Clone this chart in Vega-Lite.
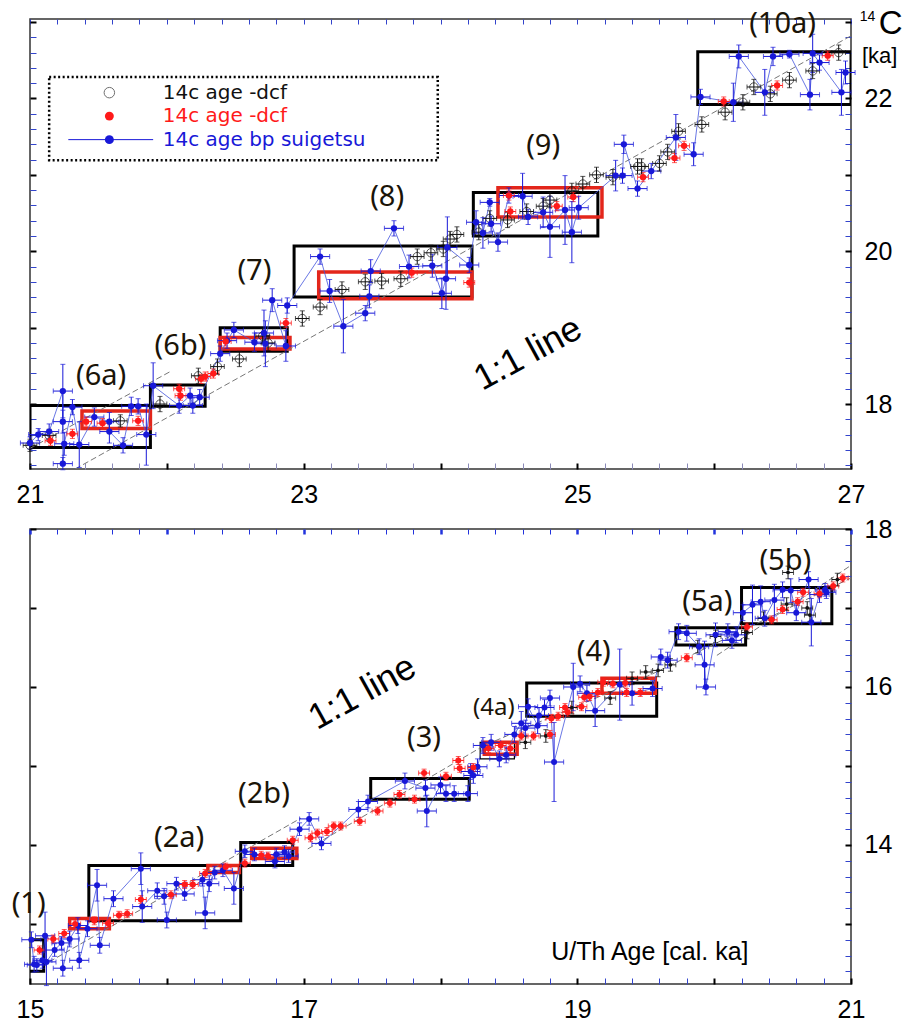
{
"$schema": "https://vega.github.io/schema/vega-lite/v6.json",
"padding": {"left": 10, "top": 7, "right": 0, "bottom": 0},
"spacing": 8,
"background": "white",
"config": {"view": {"stroke": "#333333", "strokeWidth": 1.5}, "axis": {"labelFont": "Liberation Sans", "labelFontSize": 25, "labelColor": "#000000", "grid": false, "domain": false}},
"datasets": {
"pts": [
{"p":"t","s":"blu","x":21.00,"y":17.49,"xe":0.07,"ye":0.08},{"p":"t","s":"blu","x":21.06,"y":17.60,"xe":0.07,"ye":0.08},{"p":"t","s":"blu","x":21.14,"y":17.64,"xe":0.07,"ye":0.1},{"p":"t","s":"blu","x":21.24,"y":18.17,"xe":0.07,"ye":0.35},{"p":"t","s":"blu","x":21.24,"y":17.77,"xe":0.07,"ye":0.15},{"p":"t","s":"blu","x":21.25,"y":17.48,"xe":0.07,"ye":0.15},{"p":"t","s":"blu","x":21.24,"y":17.22,"xe":0.07,"ye":0.08},{"p":"t","s":"blu","x":21.31,"y":17.96,"xe":0.07,"ye":0.1},{"p":"t","s":"blu","x":21.36,"y":17.47,"xe":0.07,"ye":0.3},{"p":"t","s":"blu","x":21.47,"y":17.83,"xe":0.07,"ye":0.12},{"p":"t","s":"blu","x":21.58,"y":17.77,"xe":0.07,"ye":0.12},{"p":"t","s":"blu","x":21.58,"y":17.64,"xe":0.07,"ye":0.15},{"p":"t","s":"blu","x":21.68,"y":17.46,"xe":0.07,"ye":0.1},{"p":"t","s":"blu","x":21.74,"y":17.97,"xe":0.07,"ye":0.12},{"p":"t","s":"blu","x":21.79,"y":17.97,"xe":0.07,"ye":0.1},{"p":"t","s":"blu","x":21.85,"y":17.60,"xe":0.07,"ye":0.4},{"p":"t","s":"blu","x":21.90,"y":18.24,"xe":0.07,"ye":0.3},{"p":"t","s":"blu","x":22.09,"y":17.98,"xe":0.07,"ye":0.1},{"p":"t","s":"blu","x":22.17,"y":18.11,"xe":0.07,"ye":0.1},{"p":"t","s":"blu","x":22.19,"y":17.98,"xe":0.07,"ye":0.1},{"p":"t","s":"blu","x":22.24,"y":18.09,"xe":0.07,"ye":0.1},{"p":"t","s":"blu","x":22.39,"y":18.66,"xe":0.07,"ye":0.1},{"p":"t","s":"blu","x":22.44,"y":18.83,"xe":0.07,"ye":0.1},{"p":"t","s":"blu","x":22.49,"y":18.97,"xe":0.07,"ye":0.1},{"p":"t","s":"blu","x":22.64,"y":18.81,"xe":0.07,"ye":0.12},{"p":"t","s":"blu","x":22.71,"y":18.93,"xe":0.07,"ye":0.3},{"p":"t","s":"blu","x":22.72,"y":18.79,"xe":0.07,"ye":0.3},{"p":"t","s":"blu","x":22.77,"y":19.36,"xe":0.07,"ye":0.15},{"p":"t","s":"blu","x":22.87,"y":18.76,"xe":0.07,"ye":0.2},{"p":"t","s":"blu","x":22.88,"y":19.29,"xe":0.07,"ye":0.1},{"p":"t","s":"blu","x":23.12,"y":19.93,"xe":0.07,"ye":0.1},{"p":"t","s":"blu","x":23.19,"y":19.48,"xe":0.07,"ye":0.15},{"p":"t","s":"blu","x":23.29,"y":19.02,"xe":0.07,"ye":0.35},{"p":"t","s":"blu","x":23.45,"y":19.19,"xe":0.07,"ye":0.1},{"p":"t","s":"blu","x":23.48,"y":19.41,"xe":0.07,"ye":0.15},{"p":"t","s":"blu","x":23.49,"y":19.74,"xe":0.07,"ye":0.15},{"p":"t","s":"blu","x":23.66,"y":20.30,"xe":0.07,"ye":0.1},{"p":"t","s":"blu","x":23.77,"y":19.80,"xe":0.07,"ye":0.15},{"p":"t","s":"blu","x":23.94,"y":19.81,"xe":0.07,"ye":0.15},{"p":"t","s":"blu","x":24.01,"y":19.45,"xe":0.07,"ye":0.2},{"p":"t","s":"blu","x":24.04,"y":19.64,"xe":0.07,"ye":0.4},{"p":"t","s":"blu","x":24.05,"y":20.05,"xe":0.07,"ye":0.4},{"p":"t","s":"blu","x":24.21,"y":19.82,"xe":0.07,"ye":0.1},{"p":"t","s":"blu","x":24.26,"y":20.38,"xe":0.07,"ye":0.15},{"p":"t","s":"blu","x":24.31,"y":20.24,"xe":0.07,"ye":0.2},{"p":"t","s":"blu","x":24.36,"y":20.64,"xe":0.07,"ye":0.05},{"p":"t","s":"blu","x":24.37,"y":20.36,"xe":0.07,"ye":0.1},{"p":"t","s":"blu","x":24.42,"y":20.12,"xe":0.07,"ye":0.12},{"p":"t","s":"blu","x":24.50,"y":20.73,"xe":0.07,"ye":0.1},{"p":"t","s":"blu","x":24.60,"y":20.72,"xe":0.07,"ye":0.3},{"p":"t","s":"blu","x":24.64,"y":20.45,"xe":0.07,"ye":0.1},{"p":"t","s":"blu","x":24.75,"y":20.51,"xe":0.07,"ye":0.2},{"p":"t","s":"blu","x":24.80,"y":20.32,"xe":0.07,"ye":0.4},{"p":"t","s":"blu","x":24.91,"y":20.54,"xe":0.07,"ye":0.45},{"p":"t","s":"blu","x":24.96,"y":20.25,"xe":0.07,"ye":0.4},{"p":"t","s":"blu","x":25.01,"y":20.57,"xe":0.07,"ye":0.15},{"p":"t","s":"blu","x":25.28,"y":20.99,"xe":0.07,"ye":0.2},{"p":"t","s":"blu","x":25.33,"y":20.99,"xe":0.07,"ye":0.1},{"p":"t","s":"blu","x":25.34,"y":21.40,"xe":0.07,"ye":0.12},{"p":"t","s":"blu","x":25.44,"y":20.82,"xe":0.07,"ye":0.1},{"p":"t","s":"blu","x":25.54,"y":21.05,"xe":0.07,"ye":0.1},{"p":"t","s":"blu","x":25.72,"y":21.49,"xe":0.07,"ye":0.3},{"p":"t","s":"blu","x":25.85,"y":21.27,"xe":0.07,"ye":0.15},{"p":"t","s":"blu","x":25.90,"y":22.02,"xe":0.07,"ye":0.1},{"p":"t","s":"blu","x":26.14,"y":21.95,"xe":0.07,"ye":0.25},{"p":"t","s":"blu","x":26.18,"y":22.55,"xe":0.07,"ye":0.15},{"p":"t","s":"blu","x":26.37,"y":22.08,"xe":0.07,"ye":0.3},{"p":"t","s":"blu","x":26.43,"y":22.55,"xe":0.07,"ye":0.12},{"p":"t","s":"blu","x":26.55,"y":22.58,"xe":0.07,"ye":0.05},{"p":"t","s":"blu","x":26.70,"y":22.05,"xe":0.07,"ye":0.2},{"p":"t","s":"blu","x":26.72,"y":22.59,"xe":0.07,"ye":0.25},{"p":"t","s":"blu","x":26.77,"y":22.47,"xe":0.07,"ye":0.1},{"p":"t","s":"blu","x":26.93,"y":22.08,"xe":0.07,"ye":0.3},{"p":"t","s":"blu","x":26.96,"y":22.34,"xe":0.07,"ye":0.15},
{"p":"t","s":"blk","x":21.00,"y":17.46,"xe":0.05,"ye":0.08},{"p":"t","s":"blk","x":21.14,"y":17.59,"xe":0.05,"ye":0.08},{"p":"t","s":"blk","x":21.66,"y":17.78,"xe":0.05,"ye":0.08},{"p":"t","s":"blk","x":21.95,"y":18.00,"xe":0.05,"ye":0.1},{"p":"t","s":"blk","x":22.23,"y":18.37,"xe":0.05,"ye":0.1},{"p":"t","s":"blk","x":22.37,"y":18.49,"xe":0.05,"ye":0.1},{"p":"t","s":"blk","x":22.53,"y":18.59,"xe":0.05,"ye":0.1},{"p":"t","s":"blk","x":22.70,"y":18.89,"xe":0.05,"ye":0.1},{"p":"t","s":"blk","x":22.74,"y":18.80,"xe":0.05,"ye":0.1},{"p":"t","s":"blk","x":22.99,"y":19.12,"xe":0.05,"ye":0.1},{"p":"t","s":"blk","x":23.12,"y":19.27,"xe":0.05,"ye":0.1},{"p":"t","s":"blk","x":23.28,"y":19.50,"xe":0.05,"ye":0.1},{"p":"t","s":"blk","x":23.45,"y":19.60,"xe":0.05,"ye":0.1},{"p":"t","s":"blk","x":23.57,"y":19.61,"xe":0.05,"ye":0.1},{"p":"t","s":"blk","x":23.71,"y":19.64,"xe":0.05,"ye":0.1},{"p":"t","s":"blk","x":23.83,"y":19.93,"xe":0.05,"ye":0.1},{"p":"t","s":"blk","x":23.93,"y":19.98,"xe":0.05,"ye":0.1},{"p":"t","s":"blk","x":24.02,"y":20.03,"xe":0.05,"ye":0.1},{"p":"t","s":"blk","x":24.07,"y":20.16,"xe":0.05,"ye":0.1},{"p":"t","s":"blk","x":24.12,"y":20.22,"xe":0.05,"ye":0.1},{"p":"t","s":"blk","x":24.28,"y":20.25,"xe":0.05,"ye":0.1},{"p":"t","s":"blk","x":24.36,"y":20.43,"xe":0.05,"ye":0.1},{"p":"t","s":"blk","x":24.49,"y":20.41,"xe":0.05,"ye":0.1},{"p":"t","s":"blk","x":24.63,"y":20.52,"xe":0.05,"ye":0.1},{"p":"t","s":"blk","x":24.75,"y":20.59,"xe":0.05,"ye":0.1},{"p":"t","s":"blk","x":24.80,"y":20.67,"xe":0.05,"ye":0.1},{"p":"t","s":"blk","x":24.96,"y":20.79,"xe":0.05,"ye":0.1},{"p":"t","s":"blk","x":25.04,"y":20.88,"xe":0.05,"ye":0.1},{"p":"t","s":"blk","x":25.14,"y":21.00,"xe":0.05,"ye":0.1},{"p":"t","s":"blk","x":25.26,"y":20.97,"xe":0.05,"ye":0.1},{"p":"t","s":"blk","x":25.44,"y":21.11,"xe":0.05,"ye":0.1},{"p":"t","s":"blk","x":25.47,"y":21.11,"xe":0.05,"ye":0.1},{"p":"t","s":"blk","x":25.60,"y":21.15,"xe":0.05,"ye":0.1},{"p":"t","s":"blk","x":25.66,"y":21.30,"xe":0.05,"ye":0.1},{"p":"t","s":"blk","x":25.74,"y":21.57,"xe":0.05,"ye":0.1},{"p":"t","s":"blk","x":25.91,"y":21.66,"xe":0.05,"ye":0.1},{"p":"t","s":"blk","x":26.08,"y":21.82,"xe":0.05,"ye":0.1},{"p":"t","s":"blk","x":26.21,"y":21.95,"xe":0.05,"ye":0.1},{"p":"t","s":"blk","x":26.29,"y":22.15,"xe":0.05,"ye":0.1},{"p":"t","s":"blk","x":26.41,"y":22.06,"xe":0.05,"ye":0.1},{"p":"t","s":"blk","x":26.55,"y":22.24,"xe":0.05,"ye":0.1},{"p":"t","s":"blk","x":26.72,"y":22.36,"xe":0.05,"ye":0.1},{"p":"t","s":"blk","x":26.91,"y":22.60,"xe":0.05,"ye":0.1},
{"p":"t","s":"red","x":21.15,"y":17.52,"xe":0.04,"ye":0.06},{"p":"t","s":"red","x":21.31,"y":17.61,"xe":0.04,"ye":0.06},{"p":"t","s":"red","x":21.41,"y":17.77,"xe":0.04,"ye":0.06},{"p":"t","s":"red","x":21.53,"y":17.75,"xe":0.04,"ye":0.06},{"p":"t","s":"red","x":21.79,"y":17.78,"xe":0.04,"ye":0.06},{"p":"t","s":"red","x":22.09,"y":18.20,"xe":0.04,"ye":0.06},{"p":"t","s":"red","x":22.10,"y":18.11,"xe":0.04,"ye":0.06},{"p":"t","s":"red","x":22.25,"y":18.33,"xe":0.04,"ye":0.06},{"p":"t","s":"red","x":22.28,"y":18.36,"xe":0.04,"ye":0.06},{"p":"t","s":"red","x":22.34,"y":18.40,"xe":0.04,"ye":0.06},{"p":"t","s":"red","x":22.43,"y":18.82,"xe":0.04,"ye":0.06},{"p":"t","s":"red","x":22.87,"y":19.06,"xe":0.04,"ye":0.06},{"p":"t","s":"red","x":23.79,"y":19.72,"xe":0.04,"ye":0.06},{"p":"t","s":"red","x":24.21,"y":19.59,"xe":0.04,"ye":0.06},{"p":"t","s":"red","x":24.50,"y":20.73,"xe":0.04,"ye":0.06},{"p":"t","s":"red","x":24.51,"y":20.52,"xe":0.04,"ye":0.06},{"p":"t","s":"red","x":24.85,"y":20.59,"xe":0.04,"ye":0.06},{"p":"t","s":"red","x":24.97,"y":20.71,"xe":0.04,"ye":0.06},{"p":"t","s":"red","x":25.48,"y":20.97,"xe":0.04,"ye":0.06},{"p":"t","s":"red","x":25.71,"y":21.22,"xe":0.04,"ye":0.06},{"p":"t","s":"red","x":25.78,"y":21.38,"xe":0.04,"ye":0.06},{"p":"t","s":"red","x":26.07,"y":21.96,"xe":0.04,"ye":0.06},{"p":"t","s":"red","x":26.46,"y":22.17,"xe":0.04,"ye":0.06},{"p":"t","s":"red","x":26.83,"y":22.56,"xe":0.04,"ye":0.06},
{"p":"b","s":"blu","x":15.01,"y":12.80,"xe":0.07,"ye":0.1},{"p":"b","s":"blu","x":15.03,"y":12.49,"xe":0.07,"ye":0.1},{"p":"b","s":"blu","x":15.05,"y":12.48,"xe":0.07,"ye":0.08},{"p":"b","s":"blu","x":15.09,"y":12.54,"xe":0.07,"ye":0.1},{"p":"b","s":"blu","x":15.11,"y":12.85,"xe":0.07,"ye":0.3},{"p":"b","s":"blu","x":15.12,"y":12.52,"xe":0.07,"ye":0.3},{"p":"b","s":"blu","x":15.18,"y":12.67,"xe":0.07,"ye":0.08},{"p":"b","s":"blu","x":15.23,"y":12.76,"xe":0.07,"ye":0.08},{"p":"b","s":"blu","x":15.24,"y":12.44,"xe":0.07,"ye":0.1},{"p":"b","s":"blu","x":15.29,"y":12.81,"xe":0.07,"ye":0.1},{"p":"b","s":"blu","x":15.35,"y":12.98,"xe":0.07,"ye":0.1},{"p":"b","s":"blu","x":15.36,"y":12.54,"xe":0.07,"ye":0.1},{"p":"b","s":"blu","x":15.42,"y":12.94,"xe":0.07,"ye":0.1},{"p":"b","s":"blu","x":15.49,"y":13.49,"xe":0.07,"ye":0.2},{"p":"b","s":"blu","x":15.51,"y":12.73,"xe":0.07,"ye":0.1},{"p":"b","s":"blu","x":15.61,"y":13.32,"xe":0.07,"ye":0.1},{"p":"b","s":"blu","x":15.81,"y":13.70,"xe":0.07,"ye":0.2},{"p":"b","s":"blu","x":15.82,"y":13.22,"xe":0.07,"ye":0.2},{"p":"b","s":"blu","x":15.93,"y":13.42,"xe":0.07,"ye":0.1},{"p":"b","s":"blu","x":15.98,"y":13.35,"xe":0.07,"ye":0.1},{"p":"b","s":"blu","x":16.00,"y":13.05,"xe":0.07,"ye":0.1},{"p":"b","s":"blu","x":16.07,"y":13.51,"xe":0.07,"ye":0.08},{"p":"b","s":"blu","x":16.13,"y":13.38,"xe":0.07,"ye":0.08},{"p":"b","s":"blu","x":16.26,"y":13.56,"xe":0.07,"ye":0.08},{"p":"b","s":"blu","x":16.28,"y":13.14,"xe":0.07,"ye":0.2},{"p":"b","s":"blu","x":16.31,"y":13.51,"xe":0.07,"ye":0.1},{"p":"b","s":"blu","x":16.35,"y":13.65,"xe":0.07,"ye":0.08},{"p":"b","s":"blu","x":16.41,"y":13.68,"xe":0.07,"ye":0.08},{"p":"b","s":"blu","x":16.49,"y":13.45,"xe":0.07,"ye":0.2},{"p":"b","s":"blu","x":16.57,"y":13.92,"xe":0.07,"ye":0.08},{"p":"b","s":"blu","x":16.64,"y":13.88,"xe":0.07,"ye":0.08},{"p":"b","s":"blu","x":16.79,"y":13.79,"xe":0.07,"ye":0.08},{"p":"b","s":"blu","x":16.80,"y":13.88,"xe":0.07,"ye":0.08},{"p":"b","s":"blu","x":16.86,"y":13.91,"xe":0.07,"ye":0.08},{"p":"b","s":"blu","x":16.89,"y":13.86,"xe":0.07,"ye":0.08},{"p":"b","s":"blu","x":16.97,"y":14.20,"xe":0.07,"ye":0.08},{"p":"b","s":"blu","x":17.04,"y":14.33,"xe":0.07,"ye":0.08},{"p":"b","s":"blu","x":17.13,"y":14.02,"xe":0.07,"ye":0.08},{"p":"b","s":"blu","x":17.40,"y":14.45,"xe":0.07,"ye":0.1},{"p":"b","s":"blu","x":17.47,"y":14.55,"xe":0.07,"ye":0.08},{"p":"b","s":"blu","x":17.74,"y":14.81,"xe":0.07,"ye":0.1},{"p":"b","s":"blu","x":17.89,"y":14.72,"xe":0.07,"ye":0.1},{"p":"b","s":"blu","x":17.90,"y":14.43,"xe":0.07,"ye":0.2},{"p":"b","s":"blu","x":18.00,"y":14.76,"xe":0.07,"ye":0.1},{"p":"b","s":"blu","x":18.04,"y":14.65,"xe":0.07,"ye":0.1},{"p":"b","s":"blu","x":18.10,"y":14.65,"xe":0.07,"ye":0.1},{"p":"b","s":"blu","x":18.20,"y":14.65,"xe":0.07,"ye":0.1},{"p":"b","s":"blu","x":18.22,"y":14.93,"xe":0.07,"ye":0.1},{"p":"b","s":"blu","x":18.24,"y":14.88,"xe":0.07,"ye":0.1},{"p":"b","s":"blu","x":18.27,"y":14.99,"xe":0.07,"ye":0.1},{"p":"b","s":"blu","x":18.31,"y":15.26,"xe":0.07,"ye":0.1},{"p":"b","s":"blu","x":18.37,"y":15.30,"xe":0.07,"ye":0.1},{"p":"b","s":"blu","x":18.43,"y":15.09,"xe":0.07,"ye":0.1},{"p":"b","s":"blu","x":18.48,"y":15.14,"xe":0.07,"ye":0.1},{"p":"b","s":"blu","x":18.54,"y":15.40,"xe":0.07,"ye":0.1},{"p":"b","s":"blu","x":18.59,"y":15.54,"xe":0.07,"ye":0.15},{"p":"b","s":"blu","x":18.62,"y":15.48,"xe":0.07,"ye":0.1},{"p":"b","s":"blu","x":18.64,"y":15.75,"xe":0.07,"ye":0.1},{"p":"b","s":"blu","x":18.71,"y":15.51,"xe":0.07,"ye":0.1},{"p":"b","s":"blu","x":18.72,"y":15.64,"xe":0.07,"ye":0.1},{"p":"b","s":"blu","x":18.76,"y":15.74,"xe":0.07,"ye":0.1},{"p":"b","s":"blu","x":18.80,"y":15.86,"xe":0.07,"ye":0.1},{"p":"b","s":"blu","x":18.83,"y":15.05,"xe":0.07,"ye":0.5},{"p":"b","s":"blu","x":18.97,"y":16.00,"xe":0.07,"ye":0.3},{"p":"b","s":"blu","x":19.02,"y":16.04,"xe":0.07,"ye":0.1},{"p":"b","s":"blu","x":19.07,"y":15.92,"xe":0.07,"ye":0.1},{"p":"b","s":"blu","x":19.13,"y":15.70,"xe":0.07,"ye":0.2},{"p":"b","s":"blu","x":19.31,"y":16.03,"xe":0.07,"ye":0.45},{"p":"b","s":"blu","x":19.40,"y":15.92,"xe":0.07,"ye":0.15},{"p":"b","s":"blu","x":19.55,"y":15.98,"xe":0.07,"ye":0.1},{"p":"b","s":"blu","x":19.61,"y":16.38,"xe":0.07,"ye":0.1},{"p":"b","s":"blu","x":19.66,"y":16.34,"xe":0.07,"ye":0.1},{"p":"b","s":"blu","x":19.74,"y":16.70,"xe":0.07,"ye":0.1},{"p":"b","s":"blu","x":19.80,"y":16.68,"xe":0.07,"ye":0.1},{"p":"b","s":"blu","x":19.89,"y":16.51,"xe":0.07,"ye":0.1},{"p":"b","s":"blu","x":19.93,"y":16.28,"xe":0.07,"ye":0.3},{"p":"b","s":"blu","x":19.94,"y":16.00,"xe":0.07,"ye":0.1},{"p":"b","s":"blu","x":20.01,"y":16.66,"xe":0.07,"ye":0.15},{"p":"b","s":"blu","x":20.10,"y":16.70,"xe":0.07,"ye":0.1},{"p":"b","s":"blu","x":20.13,"y":16.59,"xe":0.07,"ye":0.1},{"p":"b","s":"blu","x":20.16,"y":16.66,"xe":0.07,"ye":0.1},{"p":"b","s":"blu","x":20.21,"y":16.94,"xe":0.07,"ye":0.1},{"p":"b","s":"blu","x":20.28,"y":17.04,"xe":0.07,"ye":0.25},{"p":"b","s":"blu","x":20.34,"y":17.08,"xe":0.07,"ye":0.2},{"p":"b","s":"blu","x":20.37,"y":16.87,"xe":0.07,"ye":0.1},{"p":"b","s":"blu","x":20.44,"y":17.10,"xe":0.07,"ye":0.2},{"p":"b","s":"blu","x":20.50,"y":17.23,"xe":0.07,"ye":0.1},{"p":"b","s":"blu","x":20.56,"y":17.22,"xe":0.07,"ye":0.15},{"p":"b","s":"blu","x":20.60,"y":16.94,"xe":0.07,"ye":0.1},{"p":"b","s":"blu","x":20.69,"y":17.36,"xe":0.07,"ye":0.1},{"p":"b","s":"blu","x":20.71,"y":16.82,"xe":0.07,"ye":0.3},{"p":"b","s":"blu","x":20.77,"y":17.17,"xe":0.07,"ye":0.1},{"p":"b","s":"blu","x":20.81,"y":17.23,"xe":0.07,"ye":0.08},{"p":"b","s":"blu","x":20.82,"y":17.20,"xe":0.07,"ye":0.08},
{"p":"b","s":"red","x":15.07,"y":12.67,"xe":0.04,"ye":0.05},{"p":"b","s":"red","x":15.17,"y":12.81,"xe":0.04,"ye":0.05},{"p":"b","s":"red","x":15.25,"y":12.88,"xe":0.04,"ye":0.05},{"p":"b","s":"red","x":15.33,"y":13.00,"xe":0.04,"ye":0.05},{"p":"b","s":"red","x":15.47,"y":13.04,"xe":0.04,"ye":0.05},{"p":"b","s":"red","x":15.57,"y":13.01,"xe":0.04,"ye":0.05},{"p":"b","s":"red","x":15.65,"y":13.11,"xe":0.04,"ye":0.05},{"p":"b","s":"red","x":15.71,"y":13.13,"xe":0.04,"ye":0.05},{"p":"b","s":"red","x":15.81,"y":13.31,"xe":0.04,"ye":0.05},{"p":"b","s":"red","x":16.03,"y":13.37,"xe":0.04,"ye":0.05},{"p":"b","s":"red","x":16.13,"y":13.50,"xe":0.04,"ye":0.05},{"p":"b","s":"red","x":16.19,"y":13.50,"xe":0.04,"ye":0.05},{"p":"b","s":"red","x":16.28,"y":13.64,"xe":0.04,"ye":0.05},{"p":"b","s":"red","x":16.43,"y":13.72,"xe":0.04,"ye":0.05},{"p":"b","s":"red","x":16.57,"y":13.77,"xe":0.04,"ye":0.05},{"p":"b","s":"red","x":16.69,"y":13.87,"xe":0.04,"ye":0.05},{"p":"b","s":"red","x":16.74,"y":13.86,"xe":0.04,"ye":0.05},{"p":"b","s":"red","x":16.92,"y":14.06,"xe":0.04,"ye":0.05},{"p":"b","s":"red","x":17.05,"y":14.09,"xe":0.04,"ye":0.05},{"p":"b","s":"red","x":17.10,"y":14.15,"xe":0.04,"ye":0.05},{"p":"b","s":"red","x":17.17,"y":14.17,"xe":0.04,"ye":0.05},{"p":"b","s":"red","x":17.22,"y":14.24,"xe":0.04,"ye":0.05},{"p":"b","s":"red","x":17.27,"y":14.24,"xe":0.04,"ye":0.05},{"p":"b","s":"red","x":17.41,"y":14.30,"xe":0.04,"ye":0.05},{"p":"b","s":"red","x":17.54,"y":14.43,"xe":0.04,"ye":0.05},{"p":"b","s":"red","x":17.63,"y":14.53,"xe":0.04,"ye":0.05},{"p":"b","s":"red","x":17.70,"y":14.64,"xe":0.04,"ye":0.05},{"p":"b","s":"red","x":17.81,"y":14.58,"xe":0.04,"ye":0.05},{"p":"b","s":"red","x":17.88,"y":14.91,"xe":0.04,"ye":0.05},{"p":"b","s":"red","x":18.04,"y":14.87,"xe":0.04,"ye":0.05},{"p":"b","s":"red","x":18.13,"y":15.07,"xe":0.04,"ye":0.05},{"p":"b","s":"red","x":18.14,"y":14.97,"xe":0.04,"ye":0.05},{"p":"b","s":"red","x":18.24,"y":14.98,"xe":0.04,"ye":0.05},{"p":"b","s":"red","x":18.35,"y":15.22,"xe":0.04,"ye":0.05},{"p":"b","s":"red","x":18.44,"y":15.26,"xe":0.04,"ye":0.05},{"p":"b","s":"red","x":18.51,"y":15.22,"xe":0.04,"ye":0.05},{"p":"b","s":"red","x":18.59,"y":15.38,"xe":0.04,"ye":0.05},{"p":"b","s":"red","x":18.68,"y":15.38,"xe":0.04,"ye":0.05},{"p":"b","s":"red","x":18.80,"y":15.40,"xe":0.04,"ye":0.05},{"p":"b","s":"red","x":18.81,"y":15.60,"xe":0.04,"ye":0.05},{"p":"b","s":"red","x":18.86,"y":15.63,"xe":0.04,"ye":0.05},{"p":"b","s":"red","x":18.91,"y":15.74,"xe":0.04,"ye":0.05},{"p":"b","s":"red","x":18.93,"y":15.68,"xe":0.04,"ye":0.05},{"p":"b","s":"red","x":19.03,"y":15.75,"xe":0.04,"ye":0.05},{"p":"b","s":"red","x":19.05,"y":15.87,"xe":0.04,"ye":0.05},{"p":"b","s":"red","x":19.09,"y":15.88,"xe":0.04,"ye":0.05},{"p":"b","s":"red","x":19.15,"y":15.93,"xe":0.04,"ye":0.05},{"p":"b","s":"red","x":19.19,"y":16.06,"xe":0.04,"ye":0.05},{"p":"b","s":"red","x":19.26,"y":16.04,"xe":0.04,"ye":0.05},{"p":"b","s":"red","x":19.35,"y":16.05,"xe":0.04,"ye":0.05},{"p":"b","s":"red","x":19.36,"y":15.93,"xe":0.04,"ye":0.05},{"p":"b","s":"red","x":19.46,"y":15.93,"xe":0.04,"ye":0.05},{"p":"b","s":"red","x":19.80,"y":16.37,"xe":0.04,"ye":0.05},{"p":"b","s":"red","x":20.24,"y":16.76,"xe":0.04,"ye":0.05},{"p":"b","s":"red","x":20.42,"y":16.85,"xe":0.04,"ye":0.05},{"p":"b","s":"red","x":20.50,"y":16.98,"xe":0.04,"ye":0.05},{"p":"b","s":"red","x":20.61,"y":17.08,"xe":0.04,"ye":0.05},{"p":"b","s":"red","x":20.65,"y":17.20,"xe":0.04,"ye":0.05},{"p":"b","s":"red","x":20.77,"y":17.18,"xe":0.04,"ye":0.05},{"p":"b","s":"red","x":20.87,"y":17.28,"xe":0.04,"ye":0.05},{"p":"b","s":"red","x":20.94,"y":17.38,"xe":0.04,"ye":0.05},
{"p":"b","s":"blk","x":18.62,"y":15.30,"xe":0.04,"ye":0.08},{"p":"b","s":"blk","x":18.77,"y":15.38,"xe":0.04,"ye":0.08},{"p":"b","s":"blk","x":18.96,"y":15.74,"xe":0.04,"ye":0.08},{"p":"b","s":"blk","x":19.24,"y":15.86,"xe":0.04,"ye":0.08},{"p":"b","s":"blk","x":19.40,"y":16.11,"xe":0.04,"ye":0.08},{"p":"b","s":"blk","x":19.50,"y":16.19,"xe":0.04,"ye":0.08},{"p":"b","s":"blk","x":19.59,"y":16.21,"xe":0.04,"ye":0.08},{"p":"b","s":"blk","x":19.68,"y":16.28,"xe":0.04,"ye":0.08},{"p":"b","s":"blk","x":19.88,"y":16.51,"xe":0.04,"ye":0.08},{"p":"b","s":"blk","x":20.01,"y":16.64,"xe":0.04,"ye":0.08},{"p":"b","s":"blk","x":20.24,"y":16.69,"xe":0.04,"ye":0.08},{"p":"b","s":"blk","x":20.36,"y":16.87,"xe":0.04,"ye":0.08},{"p":"b","s":"blk","x":20.53,"y":17.05,"xe":0.04,"ye":0.08},{"p":"b","s":"blk","x":20.54,"y":17.45,"xe":0.04,"ye":0.08},{"p":"b","s":"blk","x":20.68,"y":17.00,"xe":0.04,"ye":0.08},{"p":"b","s":"blk","x":20.70,"y":16.91,"xe":0.04,"ye":0.08},{"p":"b","s":"blk","x":20.90,"y":17.36,"xe":0.04,"ye":0.08}
],
"boxes": [
{"p":"t","k":"main","x1":21.0,"x2":21.88,"y1":17.43,"y2":17.98},{"p":"t","k":"sub","x1":21.38,"x2":21.88,"y1":17.68,"y2":17.91},{"p":"t","k":"main","x1":21.88,"x2":22.28,"y1":17.97,"y2":18.25},{"p":"t","k":"main","x1":22.39,"x2":22.88,"y1":18.69,"y2":19.0},{"p":"t","k":"sub","x1":22.39,"x2":22.90,"y1":18.72,"y2":18.87},{"p":"t","k":"main","x1":22.93,"x2":24.23,"y1":19.40,"y2":20.07},{"p":"t","k":"sub","x1":23.11,"x2":24.23,"y1":19.38,"y2":19.73},{"p":"t","k":"main","x1":24.24,"x2":25.15,"y1":20.20,"y2":20.77},{"p":"t","k":"sub","x1":24.42,"x2":25.18,"y1":20.45,"y2":20.83},{"p":"t","k":"main","x1":25.88,"x2":27.0,"y1":21.92,"y2":22.61},
{"p":"b","k":"main","x1":14.93,"x2":15.10,"y1":12.40,"y2":12.80},{"p":"b","k":"main","x1":15.43,"x2":16.54,"y1":13.04,"y2":13.74},{"p":"b","k":"sub","x1":15.29,"x2":15.58,"y1":12.94,"y2":13.07},{"p":"b","k":"sub","x1":16.30,"x2":16.53,"y1":13.65,"y2":13.74},{"p":"b","k":"main","x1":16.54,"x2":16.92,"y1":13.74,"y2":14.03},{"p":"b","k":"sub","x1":16.62,"x2":16.95,"y1":13.83,"y2":13.96},{"p":"b","k":"main","x1":17.49,"x2":18.21,"y1":14.58,"y2":14.84},{"p":"b","k":"thin","x1":18.29,"x2":18.54,"y1":15.09,"y2":15.30},{"p":"b","k":"sub","x1":18.32,"x2":18.56,"y1":15.15,"y2":15.30},{"p":"b","k":"main","x1":18.63,"x2":19.58,"y1":15.63,"y2":16.05},{"p":"b","k":"sub","x1":19.18,"x2":19.57,"y1":15.92,"y2":16.11},{"p":"b","k":"main","x1":19.72,"x2":20.23,"y1":16.53,"y2":16.75},{"p":"b","k":"main","x1":20.20,"x2":20.86,"y1":16.80,"y2":17.26}
],
"lines": [
{"p":"t","g":"a","x":21.33,"y":17.15},{"p":"t","g":"a","x":27.0,"y":22.82},{"p":"t","g":"b","x":21.0,"y":17.42},{"p":"t","g":"b","x":22.03,"y":18.43},
{"p":"b","g":"a","x":15.14,"y":12.52},{"p":"b","g":"a","x":16.98,"y":14.34},{"p":"b","g":"b","x":17.03,"y":13.95},{"p":"b","g":"b","x":18.32,"y":15.26},{"p":"b","g":"b","x":19.53,"y":16.15},{"p":"b","g":"b","x":21.0,"y":17.38},{"p":"b","g":"c","x":20.02,"y":16.40},{"p":"b","g":"c","x":21.0,"y":17.54}
],
"txt": [
{"p":"t","k":"lab","t":"(6a)","x":21.52,"y":18.37},{"p":"t","k":"lab","t":"(6b)","x":22.10,"y":18.76},{"p":"t","k":"lab","t":"(7)","x":22.64,"y":19.74},{"p":"t","k":"lab","t":"(8)","x":23.61,"y":20.71},{"p":"t","k":"lab","t":"(9)","x":24.75,"y":21.38},{"p":"t","k":"lab","t":"(10a)","x":26.50,"y":22.97},
{"p":"t","k":"one","t":"1:1 line","x":24.64,"y":18.66},{"p":"t","k":"sup","t":"14","x":27.12,"y":23.06},{"p":"t","k":"c","t":"C","x":27.29,"y":22.97},{"p":"t","k":"ka","t":"[ka]","x":27.21,"y":22.55},
{"p":"b","k":"lab","t":"(1)","x":14.99,"y":13.25},{"p":"b","k":"lab","t":"(2a)","x":16.09,"y":14.09},{"p":"b","k":"lab","t":"(2b)","x":16.71,"y":14.65},{"p":"b","k":"lab","t":"(3)","x":17.88,"y":15.35},{"p":"b","k":"lab2","t":"(4a)","x":18.39,"y":15.73},{"p":"b","k":"lab","t":"(4)","x":19.12,"y":16.44},{"p":"b","k":"lab","t":"(5a)","x":19.95,"y":17.08},{"p":"b","k":"lab","t":"(5b)","x":20.52,"y":17.59},
{"p":"b","k":"one","t":"1:1 line","x":17.43,"y":15.93},{"p":"b","k":"ax","t":"U/Th Age [cal. ka]","x":19.53,"y":12.65}
],
"leg": [
{"r":"box","x":21.14,"x2":23.98,"y":21.19,"y2":22.28},
{"r":"pt","s":"blk","x":21.58,"y":22.076},{"r":"pt","s":"red","x":21.58,"y":21.769},{"r":"pt","s":"blu","x":21.58,"y":21.461},
{"r":"ln","x":21.28,"y":21.461},{"r":"ln","x":21.90,"y":21.461},
{"r":"tx","s":"blk","x":21.97,"y":22.076,"t":"14c age -dcf"},{"r":"tx","s":"red","x":21.97,"y":21.769,"t":"14c age -dcf"},{"r":"tx","s":"blu","x":21.97,"y":21.461,"t":"14c age bp suigetsu"}
]
},
"vconcat": [
{
"width": 821, "height": 450,
"resolve": {"axis": {"x": "independent", "y": "independent"}},
"layer": [
{"data": {"name": "boxes"}, "transform": [{"filter": "datum.p=='t'"}], "mark": {"type": "rect", "fill": null, "filled": false, "clip": true},
 "encoding": {"x": {"field": "x1", "type": "quantitative", "scale": {"domain": [21, 27], "nice": false, "zero": false}, "axis": null, "title": null}, "x2": {"field": "x2"}, "y": {"field": "y1", "type": "quantitative", "scale": {"domain": [17.15, 23.04], "nice": false, "zero": false}, "axis": null, "title": null}, "y2": {"field": "y2"},
 "stroke": {"field": "k", "type": "nominal", "scale": {"domain": ["main", "sub", "thin"], "range": ["#000000", "#e3261b", "#000000"]}, "legend": null},
 "strokeWidth": {"condition": [{"test": "datum.k=='sub'", "value": 3.5}, {"test": "datum.k=='thin'", "value": 1.2}], "value": 3}}},
{"data": {"name": "lines"}, "transform": [{"filter": "datum.p=='t'"}], "mark": {"type": "line", "color": "#777777", "strokeWidth": 1, "strokeDash": [6, 3], "clip": true},
 "encoding": {"x": {"field": "x", "type": "quantitative", "title": null, "axis": {"orient": "bottom", "values": [21,21.2,21.4,21.6,21.8,22,22.2,22.4,22.6,22.8,23,23.2,23.4,23.6,23.8,24,24.2,24.4,24.6,24.8,25,25.2,25.4,25.6,25.8,26,26.2,26.4,26.6,26.8,27], "labelExpr": "datum.value % 2 == 1 ? format(datum.value, 'd') : ''", "tickSize": -6, "tickColor": {"condition": {"test": "datum.value % 1 == 0", "value": "#000000"}, "value": "#8a8ab8"}, "tickWidth": {"condition": {"test": "datum.value % 1 == 0", "value": 2}, "value": 1}, "labelPadding": 19, "labelFlush": false, "labelOverlap": false}},
 "y": {"field": "y", "type": "quantitative", "title": null, "axis": {"orient": "right", "values": [17.2,17.4,17.6,17.8,18,18.2,18.4,18.6,18.8,19,19.2,19.4,19.6,19.8,20,20.2,20.4,20.6,20.8,21,21.2,21.4,21.6,21.8,22,22.2,22.4,22.6,22.8,23], "labelExpr": "datum.value % 2 == 0 ? format(datum.value, 'd') : ''", "tickSize": -6, "tickColor": {"condition": {"test": "datum.value % 1 == 0", "value": "#000000"}, "value": "#3344cc"}, "tickWidth": {"condition": {"test": "datum.value % 1 == 0", "value": 2}, "value": 1}, "labelPadding": 19, "labelFlush": false, "labelOverlap": false}},
 "detail": {"field": "g"}}},
{"data": {"name": "pts"}, "transform": [{"filter": "datum.p=='t' && datum.s=='blu'"}], "mark": {"type": "line", "color": "#4455dd", "strokeWidth": 1, "opacity": 0.8},
 "encoding": {"x": {"field": "x", "type": "quantitative", "title": null, "axis": {"orient": "top", "values": [21,21.2,21.4,21.6,21.8,22,22.2,22.4,22.6,22.8,23,23.2,23.4,23.6,23.8,24,24.2,24.4,24.6,24.8,25,25.2,25.4,25.6,25.8,26,26.2,26.4,26.6,26.8,27], "labels": false, "tickSize": -5, "tickColor": "#3344cc"}},
 "y": {"field": "y", "type": "quantitative", "title": null, "axis": {"orient": "left", "values": [17.2,17.4,17.6,17.8,18,18.2,18.4,18.6,18.8,19,19.2,19.4,19.6,19.8,20,20.2,20.4,20.6,20.8,21,21.2,21.4,21.6,21.8,22,22.2,22.4,22.6,22.8,23], "labels": false, "tickSize": -6, "tickColor": {"condition": {"test": "datum.value % 1 == 0", "value": "#000000"}, "value": "#3344cc"}, "tickWidth": {"condition": {"test": "datum.value % 1 == 0", "value": 2}, "value": 1}}}}},
{"data": {"name": "pts"}, "transform": [{"filter": "datum.p=='t'"}], "mark": {"type": "errorbar", "ticks": true, "thickness": 1},
 "encoding": {"x": {"field": "x", "type": "quantitative", "axis": null, "title": null}, "xError": {"field": "xe"}, "y": {"field": "y", "type": "quantitative", "axis": null, "title": null},
 "color": {"field": "s", "type": "nominal", "scale": {"domain": ["blk", "red", "blu"], "range": ["#111111", "#ff1a1a", "#1818d8"]}, "legend": null}}},
{"data": {"name": "pts"}, "transform": [{"filter": "datum.p=='t'"}], "mark": {"type": "errorbar", "ticks": true, "thickness": 1},
 "encoding": {"y": {"field": "y", "type": "quantitative", "axis": null, "title": null}, "yError": {"field": "ye"}, "x": {"field": "x", "type": "quantitative", "axis": null, "title": null},
 "color": {"field": "s", "type": "nominal", "legend": null}}},
{"data": {"name": "pts"}, "transform": [{"filter": "datum.p=='t' && datum.s=='blk'"}], "mark": {"type": "point", "filled": false, "size": 70, "strokeWidth": 1, "color": "#111111"},
 "encoding": {"x": {"field": "x", "type": "quantitative", "axis": null, "title": null}, "y": {"field": "y", "type": "quantitative", "axis": null, "title": null}}},
{"data": {"name": "pts"}, "transform": [{"filter": "datum.p=='t' && datum.s!='blk'"}], "mark": {"type": "circle", "size": 40, "opacity": 1},
 "encoding": {"x": {"field": "x", "type": "quantitative", "axis": null, "title": null}, "y": {"field": "y", "type": "quantitative", "axis": null, "title": null}, "color": {"field": "s", "type": "nominal", "legend": null}}},
{"data": {"name": "txt"}, "transform": [{"filter": "datum.p=='t' && (datum.k=='lab' || datum.k=='lab2')"}], "mark": {"type": "text", "font": "Noto Sans", "color": "#1a1408", "align": "center", "baseline": "middle"},
 "encoding": {"x": {"field": "x", "type": "quantitative", "axis": null, "title": null}, "y": {"field": "y", "type": "quantitative", "axis": null, "title": null}, "text": {"field": "t"},
 "size": {"condition": {"test": "datum.k=='lab2'", "value": 24}, "value": 29}}},
{"data": {"name": "txt"}, "transform": [{"filter": "datum.p=='t' && (datum.k=='sup' || datum.k=='c' || datum.k=='ka' || datum.k=='ax')"}], "mark": {"type": "text", "font": "Liberation Sans", "color": "#000000", "align": "center", "baseline": "middle"},
 "encoding": {"x": {"field": "x", "type": "quantitative", "axis": null, "title": null}, "y": {"field": "y", "type": "quantitative", "axis": null, "title": null}, "text": {"field": "t"},
 "size": {"condition": [{"test": "datum.k=='sup'", "value": 14}, {"test": "datum.k=='c'", "value": 33}, {"test": "datum.k=='ka'", "value": 22}], "value": 25}}},
{"data": {"name": "txt"}, "transform": [{"filter": "datum.p=='t' && datum.k=='one'"}], "mark": {"type": "text", "font": "Liberation Sans", "fontSize": 36, "angle": -28.5, "color": "#000000", "align": "center", "baseline": "middle"},
 "encoding": {"x": {"field": "x", "type": "quantitative", "axis": null, "title": null}, "y": {"field": "y", "type": "quantitative", "axis": null, "title": null}, "text": {"field": "t"}}},
{"data": {"name": "leg"}, "transform": [{"filter": "datum.r=='box'"}], "mark": {"type": "rect", "fill": null, "filled": false, "stroke": "#000000", "strokeWidth": 2.5, "strokeDash": [2, 2.5]},
 "encoding": {"x": {"field": "x", "type": "quantitative", "axis": null, "title": null}, "x2": {"field": "x2"}, "y": {"field": "y", "type": "quantitative", "axis": null, "title": null}, "y2": {"field": "y2"}}},
{"data": {"name": "leg"}, "transform": [{"filter": "datum.r=='ln'"}], "mark": {"type": "line", "color": "#1818d8", "strokeWidth": 1},
 "encoding": {"x": {"field": "x", "type": "quantitative", "axis": null, "title": null}, "y": {"field": "y", "type": "quantitative", "axis": null, "title": null}}},
{"data": {"name": "leg"}, "transform": [{"filter": "datum.r=='pt' && datum.s=='blk'"}], "mark": {"type": "point", "filled": false, "size": 110, "strokeWidth": 1, "color": "#333333"},
 "encoding": {"x": {"field": "x", "type": "quantitative", "axis": null, "title": null}, "y": {"field": "y", "type": "quantitative", "axis": null, "title": null}}},
{"data": {"name": "leg"}, "transform": [{"filter": "datum.r=='pt' && datum.s!='blk'"}], "mark": {"type": "circle", "size": 80, "opacity": 1},
 "encoding": {"x": {"field": "x", "type": "quantitative", "axis": null, "title": null}, "y": {"field": "y", "type": "quantitative", "axis": null, "title": null}, "color": {"field": "s", "type": "nominal", "legend": null}}},
{"data": {"name": "leg"}, "transform": [{"filter": "datum.r=='tx'"}], "mark": {"type": "text", "font": "DejaVu Sans", "fontSize": 20, "align": "left", "baseline": "middle"},
 "encoding": {"x": {"field": "x", "type": "quantitative", "axis": null, "title": null}, "y": {"field": "y", "type": "quantitative", "axis": null, "title": null}, "text": {"field": "t"}, "color": {"field": "s", "type": "nominal", "legend": null}}}
]
},
{
"width": 821, "height": 455,
"resolve": {"axis": {"x": "independent", "y": "independent"}},
"layer": [
{"data": {"name": "boxes"}, "transform": [{"filter": "datum.p=='b'"}], "mark": {"type": "rect", "fill": null, "filled": false, "clip": true},
 "encoding": {"x": {"field": "x1", "type": "quantitative", "scale": {"domain": [15, 21], "nice": false, "zero": false}, "axis": null, "title": null}, "x2": {"field": "x2"}, "y": {"field": "y1", "type": "quantitative", "scale": {"domain": [12.24, 18], "nice": false, "zero": false}, "axis": null, "title": null}, "y2": {"field": "y2"},
 "stroke": {"field": "k", "type": "nominal", "scale": {"domain": ["main", "sub", "thin"], "range": ["#000000", "#e3261b", "#000000"]}, "legend": null},
 "strokeWidth": {"condition": [{"test": "datum.k=='sub'", "value": 3.5}, {"test": "datum.k=='thin'", "value": 1.2}], "value": 3}}},
{"data": {"name": "lines"}, "transform": [{"filter": "datum.p=='b'"}], "mark": {"type": "line", "color": "#777777", "strokeWidth": 1, "strokeDash": [6, 3], "clip": true},
 "encoding": {"x": {"field": "x", "type": "quantitative", "title": null, "axis": {"orient": "bottom", "values": [15,15.2,15.4,15.6,15.8,16,16.2,16.4,16.6,16.8,17,17.2,17.4,17.6,17.8,18,18.2,18.4,18.6,18.8,19,19.2,19.4,19.6,19.8,20,20.2,20.4,20.6,20.8,21], "labelExpr": "datum.value % 2 == 1 ? format(datum.value, 'd') : ''", "tickSize": -6, "tickColor": {"condition": {"test": "datum.value % 1 == 0", "value": "#000000"}, "value": "#3344cc"}, "tickWidth": {"condition": {"test": "datum.value % 1 == 0", "value": 2}, "value": 1}, "labelPadding": 19, "labelFlush": false, "labelOverlap": false}},
 "y": {"field": "y", "type": "quantitative", "title": null, "axis": {"orient": "right", "values": [12.4,12.6,12.8,13,13.2,13.4,13.6,13.8,14,14.2,14.4,14.6,14.8,15,15.2,15.4,15.6,15.8,16,16.2,16.4,16.6,16.8,17,17.2,17.4,17.6,17.8,18], "labelExpr": "datum.value % 2 == 0 ? format(datum.value, 'd') : ''", "tickSize": -6, "tickColor": {"condition": {"test": "datum.value % 1 == 0", "value": "#000000"}, "value": "#3344cc"}, "tickWidth": {"condition": {"test": "datum.value % 1 == 0", "value": 2}, "value": 1}, "labelPadding": 19, "labelFlush": false, "labelOverlap": false}},
 "detail": {"field": "g"}}},
{"data": {"name": "pts"}, "transform": [{"filter": "datum.p=='b' && datum.s=='blu'"}], "mark": {"type": "line", "color": "#4455dd", "strokeWidth": 1, "opacity": 0.8},
 "encoding": {"x": {"field": "x", "type": "quantitative", "title": null, "axis": {"orient": "top", "values": [15,15.2,15.4,15.6,15.8,16,16.2,16.4,16.6,16.8,17,17.2,17.4,17.6,17.8,18,18.2,18.4,18.6,18.8,19,19.2,19.4,19.6,19.8,20,20.2,20.4,20.6,20.8,21], "labels": false, "tickSize": -5, "tickColor": "#2233dd", "tickWidth": {"condition": {"test": "datum.value % 1 == 0", "value": 2.5}, "value": 1}}},
 "y": {"field": "y", "type": "quantitative", "title": null, "axis": {"orient": "left", "values": [12.4,12.6,12.8,13,13.2,13.4,13.6,13.8,14,14.2,14.4,14.6,14.8,15,15.2,15.4,15.6,15.8,16,16.2,16.4,16.6,16.8,17,17.2,17.4,17.6,17.8,18], "labels": false, "tickSize": -6, "tickColor": {"condition": {"test": "datum.value % 1 == 0", "value": "#000000"}, "value": "#ffffff00"}, "tickWidth": {"condition": {"test": "datum.value % 1 == 0", "value": 2}, "value": 1}}}}},
{"data": {"name": "pts"}, "transform": [{"filter": "datum.p=='b'"}], "mark": {"type": "errorbar", "ticks": true, "thickness": 1},
 "encoding": {"x": {"field": "x", "type": "quantitative", "axis": null, "title": null}, "xError": {"field": "xe"}, "y": {"field": "y", "type": "quantitative", "axis": null, "title": null},
 "color": {"field": "s", "type": "nominal", "scale": {"domain": ["blk", "red", "blu"], "range": ["#111111", "#ff1a1a", "#1818d8"]}, "legend": null}}},
{"data": {"name": "pts"}, "transform": [{"filter": "datum.p=='b'"}], "mark": {"type": "errorbar", "ticks": true, "thickness": 1},
 "encoding": {"y": {"field": "y", "type": "quantitative", "axis": null, "title": null}, "yError": {"field": "ye"}, "x": {"field": "x", "type": "quantitative", "axis": null, "title": null},
 "color": {"field": "s", "type": "nominal", "legend": null}}},
{"data": {"name": "pts"}, "transform": [{"filter": "datum.p=='b' && datum.s=='blk'"}], "mark": {"type": "circle", "size": 14, "color": "#111111", "opacity": 1},
 "encoding": {"x": {"field": "x", "type": "quantitative", "axis": null, "title": null}, "y": {"field": "y", "type": "quantitative", "axis": null, "title": null}}},
{"data": {"name": "pts"}, "transform": [{"filter": "datum.p=='b' && datum.s!='blk'"}], "mark": {"type": "circle", "size": 36, "opacity": 1},
 "encoding": {"x": {"field": "x", "type": "quantitative", "axis": null, "title": null}, "y": {"field": "y", "type": "quantitative", "axis": null, "title": null}, "color": {"field": "s", "type": "nominal", "legend": null}}},
{"data": {"name": "txt"}, "transform": [{"filter": "datum.p=='b' && (datum.k=='lab' || datum.k=='lab2')"}], "mark": {"type": "text", "font": "Noto Sans", "color": "#1a1408", "align": "center", "baseline": "middle"},
 "encoding": {"x": {"field": "x", "type": "quantitative", "axis": null, "title": null}, "y": {"field": "y", "type": "quantitative", "axis": null, "title": null}, "text": {"field": "t"},
 "size": {"condition": {"test": "datum.k=='lab2'", "value": 24}, "value": 29}}},
{"data": {"name": "txt"}, "transform": [{"filter": "datum.p=='b' && (datum.k=='sup' || datum.k=='c' || datum.k=='ka' || datum.k=='ax')"}], "mark": {"type": "text", "font": "Liberation Sans", "color": "#000000", "align": "center", "baseline": "middle"},
 "encoding": {"x": {"field": "x", "type": "quantitative", "axis": null, "title": null}, "y": {"field": "y", "type": "quantitative", "axis": null, "title": null}, "text": {"field": "t"},
 "size": {"condition": [{"test": "datum.k=='sup'", "value": 14}, {"test": "datum.k=='c'", "value": 33}, {"test": "datum.k=='ka'", "value": 22}], "value": 25}}},
{"data": {"name": "txt"}, "transform": [{"filter": "datum.p=='b' && datum.k=='one'"}], "mark": {"type": "text", "font": "Liberation Sans", "fontSize": 36, "angle": -29, "color": "#000000", "align": "center", "baseline": "middle"},
 "encoding": {"x": {"field": "x", "type": "quantitative", "axis": null, "title": null}, "y": {"field": "y", "type": "quantitative", "axis": null, "title": null}, "text": {"field": "t"}}}
]
}
]
}
